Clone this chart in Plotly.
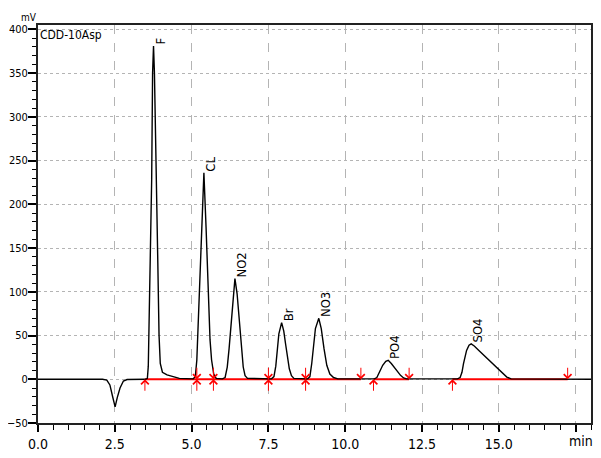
import plotly.graph_objects as go

# ---------------- data ----------------
time_min = [0.00, 2.10, 2.24, 2.34, 2.43, 2.51, 2.58, 2.67, 2.78, 2.90, 3.50,
            3.56, 3.59, 3.61, 3.65, 3.70, 3.73, 3.76, 3.79, 3.84, 3.90, 3.94, 3.98, 4.05, 4.20, 4.40, 4.60, 5.05,
            5.12, 5.17, 5.25, 5.33, 5.40, 5.47, 5.54, 5.60, 5.65, 5.72, 5.80,
            6.00, 6.09, 6.16, 6.22, 6.28, 6.35, 6.41, 6.48, 6.53, 6.58, 6.63, 6.68, 6.74, 6.82,
            7.60, 7.68, 7.74, 7.78, 7.84, 7.93, 8.00, 8.06, 8.12, 8.18, 8.25, 8.33,
            8.78, 8.85, 8.91, 8.96, 9.03, 9.14, 9.22, 9.31, 9.40, 9.50, 9.62, 9.76,
            10.95, 11.03, 11.12, 11.22, 11.32, 11.40, 11.50, 11.60, 11.70, 11.80, 11.90, 12.00,
            13.65, 13.74, 13.80, 13.85, 13.95, 14.03, 14.10, 14.20, 14.35, 14.50, 14.70, 14.93, 15.10, 15.26, 15.40,
            18.00]
signal_mv = [0.0, 0.0, -1.0, -6.5, -20.0, -31.5, -21.0, -10.0, -2.0, -0.3, 0.0,
             1.0, 15.0, 50.0, 133.0, 228.0, 350.0, 381.0, 350.0, 228.0, 133.0, 50.0, 18.0, 8.0, 5.0, 3.0, 1.0, 0.5,
             3.0, 22.0, 98.0, 174.0, 236.0, 174.0, 98.0, 45.0, 22.0, 6.0, 1.0,
             0.5, 2.0, 14.0, 35.0, 60.0, 98.0, 115.0, 98.0, 78.0, 60.0, 35.0, 14.0, 4.0, 1.0,
             0.5, 3.0, 15.0, 32.0, 52.0, 64.7, 55.0, 40.0, 28.0, 12.0, 4.0, 1.0,
             0.5, 3.0, 18.0, 35.0, 58.0, 69.7, 58.0, 35.0, 16.0, 6.0, 2.0, 0.5,
             0.5, 2.0, 8.0, 16.0, 20.5, 21.7, 18.0, 13.0, 8.5, 4.5, 1.5, 0.5,
             0.5, 2.0, 8.0, 18.0, 33.0, 39.0, 40.5, 38.0, 33.0, 28.0, 21.0, 13.0, 7.0, 2.5, 0.5,
             0.0]

peak_names = ["F", "CL", "NO2", "Br", "NO3", "PO4", "SO4"]
peak_times = [3.76, 5.40, 6.41, 7.93, 9.14, 11.40, 14.10]
peak_heights = [381.0, 236.0, 115.0, 64.7, 69.7, 21.7, 40.5]

baseline_starts = [3.48, 10.92, 13.49]
baseline_ends = [10.51, 12.08, 17.24]

event_times = [3.48, 5.17, 5.71, 7.50, 8.71, 10.51, 10.92, 12.08, 13.49, 17.24]
event_kinds = ["up", "both", "both", "both", "both", "down", "up", "down", "up", "down"]

x_tickvals = [0.0, 2.5, 5.0, 7.5, 10.0, 12.5, 15.0]
x_ticktext = ["0.0", "2.5", "5.0", "7.5", "10.0", "12.5", "15.0"]
x_unit_label = "min"
y_tickvals = [-50, 0, 50, 100, 150, 200, 250, 300, 350, 400]
y_unit_label = "mV"

# ---------------- figure ----------------
FONT = "DejaVu Sans Condensed, Liberation Sans Narrow, Noto Sans CJK JP, sans-serif"

fig = go.Figure()

# red integration baselines
for s, e in zip(baseline_starts, baseline_ends):
    fig.add_trace(go.Scatter(x=[s, e], y=[0, 0], mode="lines",
                             line=dict(color="#ff0000", width=1.8),
                             hoverinfo="skip", showlegend=False))

fig.add_trace(go.Scatter(x=time_min, y=signal_mv, mode="lines",
                         line=dict(color="#000000", width=1.4),
                         showlegend=False))

annotations = []
for name, t, h in zip(peak_names, peak_times, peak_heights):
    annotations.append(dict(x=t, y=h, xref="x", yref="y", text=name, showarrow=False,
                            textangle=-90, xanchor="left", yanchor="bottom",
                            xshift=-3, yshift=-1,
                            font=dict(family=FONT, size=13, color="#000000")))

for t, kind in zip(event_times, event_kinds):
    dirs = []
    if kind in ("down", "both"):
        dirs.append(-13)
    if kind in ("up", "both"):
        dirs.append(13)
    for ay in dirs:
        annotations.append(dict(x=t, y=0, xref="x", yref="y", text="", showarrow=True,
                                ax=0, ay=ay, arrowhead=4, arrowsize=1.5, arrowwidth=1,
                                arrowcolor="#ff0000"))

annotations.append(dict(x=0, y=1, xref="paper", yref="paper", text="CDD-10Asp",
                        showarrow=False, xanchor="left", yanchor="top", xshift=0, yshift=-1,
                        font=dict(family=FONT, size=12, color="#000000")))
annotations.append(dict(x=0, y=1, xref="paper", yref="paper", text=y_unit_label,
                        showarrow=False, xanchor="right", yanchor="bottom", xshift=1, yshift=0,
                        font=dict(family=FONT, size=10, color="#000000")))
annotations.append(dict(x=17.5, y=0, xref="x", yref="paper", text=x_unit_label,
                        showarrow=False, xanchor="center", yanchor="top", xshift=5, yshift=-8,
                        font=dict(family=FONT, size=14, color="#000000")))

# the page body adds an 8px offset, so the figure is sized to fit the window
fig.update_layout(
    width=593, height=450,
    margin=dict(l=30, r=10, t=17, b=35, autoexpand=False),
    paper_bgcolor="#ffffff", plot_bgcolor="#ffffff",
    showlegend=False,
    annotations=annotations,
)

fig.update_xaxes(range=[0, 18], tickvals=x_tickvals + [17.5], ticktext=x_ticktext + [""],
                 automargin=False,
                 ticks="outside", ticklen=7, tickwidth=1.5, tickcolor="#000000",
                 showline=True, linecolor="#222222", linewidth=2, mirror=True,
                 showgrid=True, gridcolor="#b4b4b4", gridwidth=1, griddash="dash",
                 zeroline=False,
                 tickfont=dict(family=FONT, size=14, color="#000000"),
                 minor=dict(dtick=0.5, tick0=0, ticks="outside", ticklen=5,
                            tickcolor="#000000", tickwidth=1.2, showgrid=False))
fig.update_yaxes(range=[-50, 405], tickvals=y_tickvals,
                 automargin=False,
                 ticks="outside", ticklen=8, tickwidth=1.5, tickcolor="#000000",
                 ticklabelstandoff=-2,
                 showline=True, linecolor="#222222", linewidth=2, mirror=True,
                 showgrid=True, gridcolor="#b4b4b4", gridwidth=1, griddash="dot",
                 zeroline=False,
                 tickfont=dict(family=FONT, size=11, color="#000000"),
                 minor=dict(dtick=10, tick0=0, ticks="outside", ticklen=4,
                            tickcolor="#000000", tickwidth=1.2, showgrid=False))

fig.write_html("out.html")
